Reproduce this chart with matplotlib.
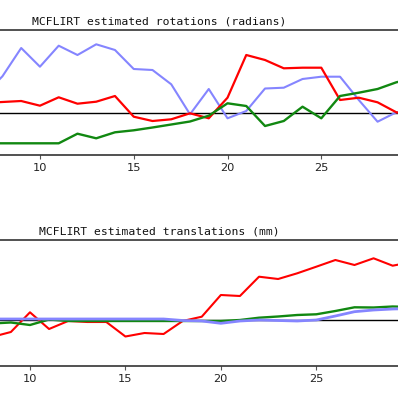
import numpy as np
import matplotlib
matplotlib.use('Agg')
import matplotlib.pyplot as plt

# volume index
vol_rot = list(range(7, 31))
vol_trans = list(range(8, 31))

# rotations (radians)
rot_x = [0.00103, 0.00113, 0.00123, 0.00076, 0.00160, 0.00096, 0.00116, 0.00173,
         -0.00034, -0.00077, -0.00060, 0.00000, -0.00050, 0.00156, 0.00583, 0.00533,
         0.00450, 0.00456, 0.00456, 0.00133, 0.00156, 0.00110, 0.00010, -0.00017]
rot_y = [-0.00300, -0.00300, -0.00300, -0.00300, -0.00300, -0.00204, -0.00250, -0.00190,
         -0.00170, -0.00142, -0.00112, -0.00082, -0.00024, 0.00100, 0.00073, -0.00127,
         -0.00077, 0.00066, -0.00050, 0.00173, 0.00206, 0.00243, 0.00310, 0.00353]
rot_z = [0.00180, 0.00370, 0.00653, 0.00466, 0.00676, 0.00583, 0.00690, 0.00633,
         0.00443, 0.00433, 0.00290, -0.00010, 0.00243, -0.00050, 0.00023, 0.00248,
         0.00256, 0.00343, 0.00366, 0.00366, 0.00133, -0.00084, 0.00010, 0.00030]

# translations (mm)
trans_x = [-0.170, -0.120, 0.077, -0.090, -0.010, -0.020, -0.020, -0.165,
           -0.130, -0.140, -0.010, 0.033, 0.250, 0.240, 0.433, 0.410,
           0.467, 0.533, 0.600, 0.550, 0.617, 0.543, 0.580]
trans_y = [-0.035, -0.025, -0.050, 0.005, -0.010, -0.010, -0.010, -0.010,
           -0.010, -0.010, -0.010, -0.010, -0.010, 0.000, 0.023, 0.035,
           0.050, 0.057, 0.090, 0.127, 0.125, 0.135, 0.130]
trans_z = [0.010, 0.010, 0.010, 0.010, 0.010, 0.010, 0.010, 0.010,
           0.010, 0.010, -0.005, -0.010, -0.033, -0.010, 0.000, -0.005,
           -0.010, 0.000, 0.040, 0.083, 0.100, 0.110, 0.115]

red = '#ff0000'
green = '#118811'
blue = '#8585ff'

fig = plt.figure(figsize=(3.98, 4.0), dpi=100)
ax1 = fig.add_axes([0, 0.6125, 1, 0.3125])
ax2 = fig.add_axes([0, 0.085, 1, 0.315])


def style(ax, title):
    ax.axhline(0, color='black', lw=1.0, zorder=1)
    for s in ['left', 'right']:
        ax.spines[s].set_visible(False)
    for s in ['top', 'bottom']:
        ax.spines[s].set_color('#222222')
        ax.spines[s].set_linewidth(1.1)
    ax.set_yticks([])
    ax.set_xticks([10, 15, 20, 25])
    ax.tick_params(axis='x', length=3, width=0.8, color='#555555', pad=3,
                   labelsize=8.2, labelcolor='#222222')
    ax.annotate(title, xy=(0.40, 1), xycoords='axes fraction',
                xytext=(0, 3.6), textcoords='offset points',
                ha='center', va='baseline', fontsize=8.2,
                family='DejaVu Sans Mono', color='#111111')


ax1.plot(vol_rot, rot_z, color=blue, lw=1.5, zorder=2)
ax1.plot(vol_rot, rot_x, color=red, lw=1.6, zorder=3)
ax1.plot(vol_rot, rot_y, color=green, lw=1.7, zorder=4)
ax1.set_xlim(7.87, 29.09)
ax1.set_ylim(-0.00417, 0.00833)
style(ax1, 'MCFLIRT estimated rotations (radians)')

ax2.plot(vol_trans, trans_x, color=red, lw=1.5, zorder=2)
ax2.plot(vol_trans, trans_y, color=green, lw=1.7, zorder=3)
ax2.plot(vol_trans, trans_z, color=blue, lw=2.0, zorder=4)
ax2.set_xlim(8.43, 29.28)
ax2.set_ylim(-0.46, 0.80)
style(ax2, 'MCFLIRT estimated translations (mm)')

fig.savefig('out.png', dpi=100)
